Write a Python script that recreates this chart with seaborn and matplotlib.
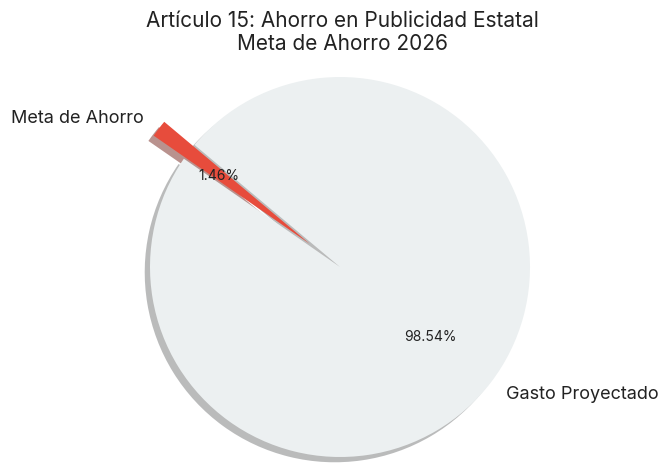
import matplotlib
matplotlib.use("Agg")
import matplotlib.pyplot as plt
import seaborn as sns

LABELS = ["Meta de Ahorro", "Gasto Proyectado"]
VALUES = [1.46, 98.54]
COLORS = ["#e74c3c", "#ecf0f1"]
EXPLODE = [0.2, 0]

sns.set_theme(style="white")
plt.rcParams["font.family"] = ["Inter", "DejaVu Sans"]

fig = plt.figure(figsize=(6.63, 4.64), dpi=100)
# square axes so that the pie radius is ~190 px, centred near (340, 268)
ax = fig.add_axes([102.5 / 663, -41.5 / 464, 475 / 663, 475 / 464])

wedges, texts, autotexts = ax.pie(
    VALUES,
    labels=LABELS,
    colors=COLORS,
    explode=EXPLODE,
    autopct="%1.2f%%",
    startangle=140,
    shadow={"shade": 0.5},
    wedgeprops={"linewidth": 0},
    textprops={"fontsize": 13, "color": "#222222"},
)
for t in autotexts:
    t.set_fontsize(10)
ax.set_aspect("equal")

fig.text(0.516, 0.93, "Artículo 15: Ahorro en Publicidad Estatal\nMeta de Ahorro 2026",
         ha="center", va="center", fontsize=15, color="#222222", linespacing=1.15)

fig.savefig("out.png", dpi=100)
